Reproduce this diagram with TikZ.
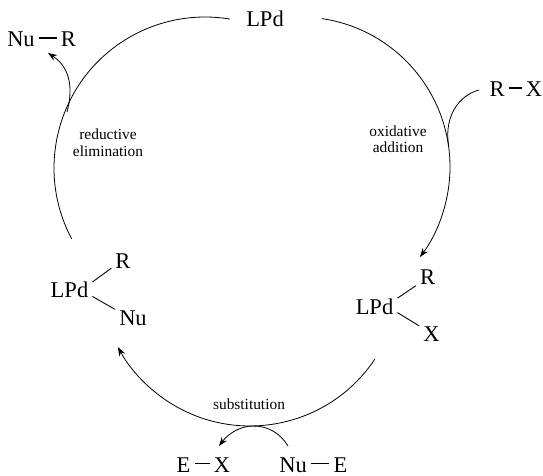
\documentclass[tikz,border=0pt]{standalone}
\usepackage{fontspec}
\setmainfont{Liberation Serif}
\usetikzlibrary{arrows.meta}
\tikzset{
  x=1pt,y=1pt,
  chem/.style={anchor=base,inner sep=4pt,text height=18pt,text depth=0pt,font=\fontsize{22.5}{24}\selectfont},
  chemb/.style={chem,inner ysep=0pt},
  lab/.style={anchor=base,inner sep=0pt,font=\fontsize{15.4}{17}\selectfont},
  bond/.style={line width=1.3pt},
  sbond/.style={line width=0.9pt},
  curve/.style={line width=0.8pt,-{Stealth[length=9pt,width=6.5pt]}},
  plain/.style={line width=0.8pt}
}
\begin{document}
\begin{tikzpicture}
\useasboundingbox (0,0) rectangle (543,476);
% top
\node[chem] (lpdt) at (265,476-27) {LPd};
% Nu-R top left
\node[chem] (nu1) at (21,476-47) {Nu};
\node[chem] (r1) at (68.5,476-47) {R};
\draw[bond] (nu1.east) -- (r1.west);
% R-X
\node[chem] (r2) at (497,476-97) {R};
\node[chem] (x2) at (534,476-97) {X};
\draw[bond] (r2.east) -- (x2.west);
% right complex
\node[chem] (lpdr) at (374.5,476-315) {LPd};
\node[chem] (r3) at (427.5,476-285) {R};
\node[chem] (x3) at (431.5,476-342) {X};
\draw[sbond] (lpdr.19) -- (r3.220);
\draw[sbond] (lpdr.-16) -- (x3.150);
% left complex
\node[chem] (lpdl) at (69.5,476-298) {LPd};
\node[chem] (r4) at (123,476-269) {R};
\node[chem] (nu4) at (133,476-326) {Nu};
\draw[sbond] (lpdl.17) -- (r4.215);
\draw[sbond] (lpdl.-18) -- (nu4.157);
% bottom
\node[chemb] (e5) at (183.5,476-472.5) {E};
\node[chemb] (x5) at (222,476-472.5) {X};
\draw[bond] (e5.east) -- (x5.west);
\node[chemb] (nu6) at (293,476-472.5) {Nu};
\node[chemb] (e6) at (340.5,476-472.5) {E};
\draw[bond] (nu6.east) -- (e6.west);
% labels
\node[lab] (l1) at (108,476-140) {reductive};
\node[lab] (l2) at (108,476-157) {elimination};
\node[lab] (l3) at (398,476-137) {oxidative};
\node[lab] (l4) at (398,476-153) {addition};
\node[lab] (l5) at (249,476-410) {substitution};
% main arcs
\coordinate (sR) at (321.9,457.4);
\coordinate (sL) at (71.7,237.1);
\coordinate (sB) at (374.8,116.8);
\draw[curve] (sR) arc[start angle=81.6,end angle=-36.9,radius=150];
\draw[plain] (sL) arc[start angle=208,end angle=80.5,radius=151];
\draw[curve] (sB) arc[start angle=326.3,end angle=208.3,radius=150];
% side arrows
\coordinate (a1) at (479,476-90);
\coordinate (a2) at (448.5,476-145);
\draw[plain] (a1) .. controls (460,476-95) and (444,476-115) .. (a2);
\coordinate (b1) at (67,476-112);
\coordinate (b2) at (48,476-53);
\draw[curve] (b1) .. controls (73,476-90) and (71,476-68) .. (b2);
\coordinate (c1) at (288,476-446);
\coordinate (c2) at (253,476-426);
\coordinate (c3) at (219,476-446);
\draw[curve] (c1) .. controls (280,476-433) and (268,476-426) .. (c2) .. controls (240,476-426) and (228,476-434) .. (c3);
\end{tikzpicture}
\end{document}
